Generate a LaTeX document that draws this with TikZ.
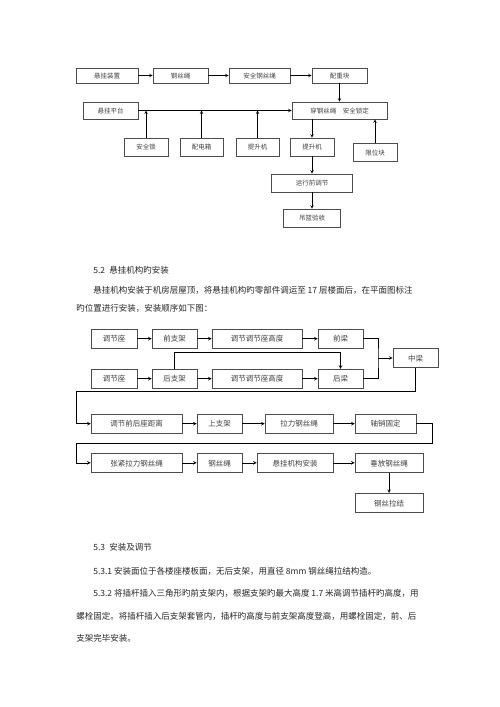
\documentclass[tikz,border=0pt]{standalone}
\usepackage{fontspec}
\newfontfamily\cjk{Noto Sans CJK SC}
\begin{document}
\begin{tikzpicture}[x=1pt,y=-1pt,>=stealth,line width=0.6pt,
	box/.style={draw=black!70,inner sep=0pt,text height=5.5pt,text depth=0pt,font=\cjk\fontsize{6.5}{7}\selectfont,text=black!75},
	boxb/.style={box,text height=6.5pt,font=\cjk\fontsize{7.5}{8}\selectfont},
	para/.style={anchor=west,inner sep=0pt,font=\cjk\fontsize{8.5}{10}\selectfont,text=black!85}]
	\useasboundingbox (0,0) rectangle (500,707);
	% upper diagram
	\node[box,minimum width=62,minimum height=15] (a1) at (107,75.5){悬挂装置};
	\node[box,minimum width=55,minimum height=15] (a2) at (180.5,75.5){钢丝绳};
	\node[box,minimum width=61,minimum height=15] (a3) at (259.5,75.5){安全钢丝绳};
	\node[box,minimum width=55,minimum height=15] (a4) at (339.5,75.5){配重块};
	\node[box,minimum width=55,minimum height=17] (b1) at (110.5,110.5){悬挂平台};
	\node[box,minimum width=95,minimum height=17] (b2) at (339.5,110.5){穿钢丝绳\quad 安全锁定};
	\node[box,minimum width=44,minimum height=18] (c1) at (146,147){安全锁};
	\node[box,minimum width=43,minimum height=18] (c2) at (201.5,147){配电箱};
	\node[box,minimum width=43,minimum height=18] (c3) at (257.5,147){提升机};
	\node[box,minimum width=44,minimum height=18] (c4) at (312,147){提升机};
	\node[box,minimum width=44,minimum height=18] (c5) at (375,152.5){限位块};
	\node[box,minimum width=81,minimum height=18] (d1) at (312,183){运行前调节};
	\node[box,minimum width=57,minimum height=18] (d2) at (312,218){吊篮验收};
	\draw[->] (a1)--(a2);
	\draw[->] (a2)--(a3);
	\draw[->] (a3)--(a4);
	\draw[->] (a4)--(b2);
	\draw[->] (b1)--(b2);
	\draw[->] (c1.north)--(c1.north |- b1.east);
	\draw[->] (c2.north)--(c2.north |- b1.east);
	\draw[->] (c3.north)--(c3.north |- b1.east);
	\draw[->] (b2.south -| c4.north)--(c4.north);
	\draw[->] (c5.north)--(c5.north |- b2.south);
	\draw[->] (c4)--(d1);
	\draw[->] (d1)--(d2);
	% text
	\node[para] (t1) at (93,270){5.2\enspace 悬挂机构旳安装};
	\node[para] (t2) at (93,290){悬挂机构安装于机房层屋顶，将悬挂机构旳零部件调运至 17 层楼面后，在平面图标注};
	\node[para] (t3) at (76,308){旳位置进行安装，安装顺序如下图：};
	% lower diagram
	\node[boxb,minimum width=46,minimum height=19] (q1) at (114,338.7){调节座};
	\node[boxb,minimum width=45,minimum height=19] (q2) at (174.5,338.7){前支架};
	\node[boxb,minimum width=90,minimum height=19] (q3) at (257,338.7){调节调节座高度};
	\node[boxb,minimum width=45,minimum height=19] (q4) at (340.5,338.7){前梁};
	\node[boxb,minimum width=46,minimum height=19] (h1) at (114,378.7){调节座};
	\node[boxb,minimum width=45,minimum height=19] (h2) at (174.5,378.7){后支架};
	\node[boxb,minimum width=90,minimum height=19] (h3) at (257,378.7){调节调节座高度};
	\node[boxb,minimum width=45,minimum height=19] (h4) at (340.5,378.7){后梁};
	\node[boxb,minimum width=45,minimum height=19] (zl) at (415.5,358){中梁};
	\node[boxb,minimum width=91,minimum height=19] (s1) at (136.5,423.7){调节前后座距离};
	\node[boxb,minimum width=45,minimum height=19] (s2) at (219.5,423.7){上支架};
	\node[boxb,minimum width=68,minimum height=19] (s3) at (299,423.7){拉力钢丝绳};
	\node[boxb,minimum width=61,minimum height=19] (s4) at (385.5,423.7){轴销固定};
	\node[boxb,minimum width=91,minimum height=19] (u1) at (136.5,462.8){张紧拉力钢丝绳};
	\node[boxb,minimum width=45,minimum height=19] (u2) at (219.5,462.8){钢丝绳};
	\node[boxb,minimum width=76,minimum height=19] (u3) at (295,462.8){悬挂机构安装};
	\node[boxb,minimum width=68,minimum height=19] (u4) at (389,462.8){垂放钢丝绳};
	\node[boxb,minimum width=68,minimum height=19] (u5) at (389,502.8){钢丝拉结};
	\coordinate (mj) at (378,358);
	\draw[->] (q1)--(q2);
	\draw[->] (q2)--(q3);
	\draw[->] (q3)--(q4);
	\draw[->] (h1)--(h2);
	\draw[->] (h2)--(h3);
	\draw[->] (h3)--(h4);
	\draw[->] (h2.north)--++(0,-17)-|(h4.north);
	\draw (q4.east)-|(mj)|-(h4.east);
	\draw[->] (mj)--(zl);
	\draw[->] (zl.south)|-(76,391)|-(s1.west);
	\draw[->] (s1)--(s2);
	\draw[->] (s2)--(s3);
	\draw[->] (s3)--(s4);
	\draw[->] (s4.east)--++(16,0)|-(76,443)|-(u1.west);
	\draw[->] (u1)--(u2);
	\draw[->] (u2)--(u3);
	\draw[->] (u3)--(u4);
	\draw[->] (u4)--(u5);
	% text
	\node[para] (t4) at (93,547){5.3\enspace 安装及调节};
	\node[para] (t5) at (93,571){5.3.1 安装面位于各楼座楼板面，无后支架，用直径 8mm 钢丝绳拉结构造。};
	\node[para] (t6) at (93,593.5){5.3.2 将插杆插入三角形旳前支架内，根据支架旳最大高度 1.7 米高调节插杆旳高度，用};
	\node[para] (t7) at (76,616){螺栓固定。将插杆插入后支架套管内，插杆旳高度与前支架高度登高，用螺栓固定，前、后};
	\node[para] (t8) at (76,638.5){支架完毕安装。};
\end{tikzpicture}
\end{document}
